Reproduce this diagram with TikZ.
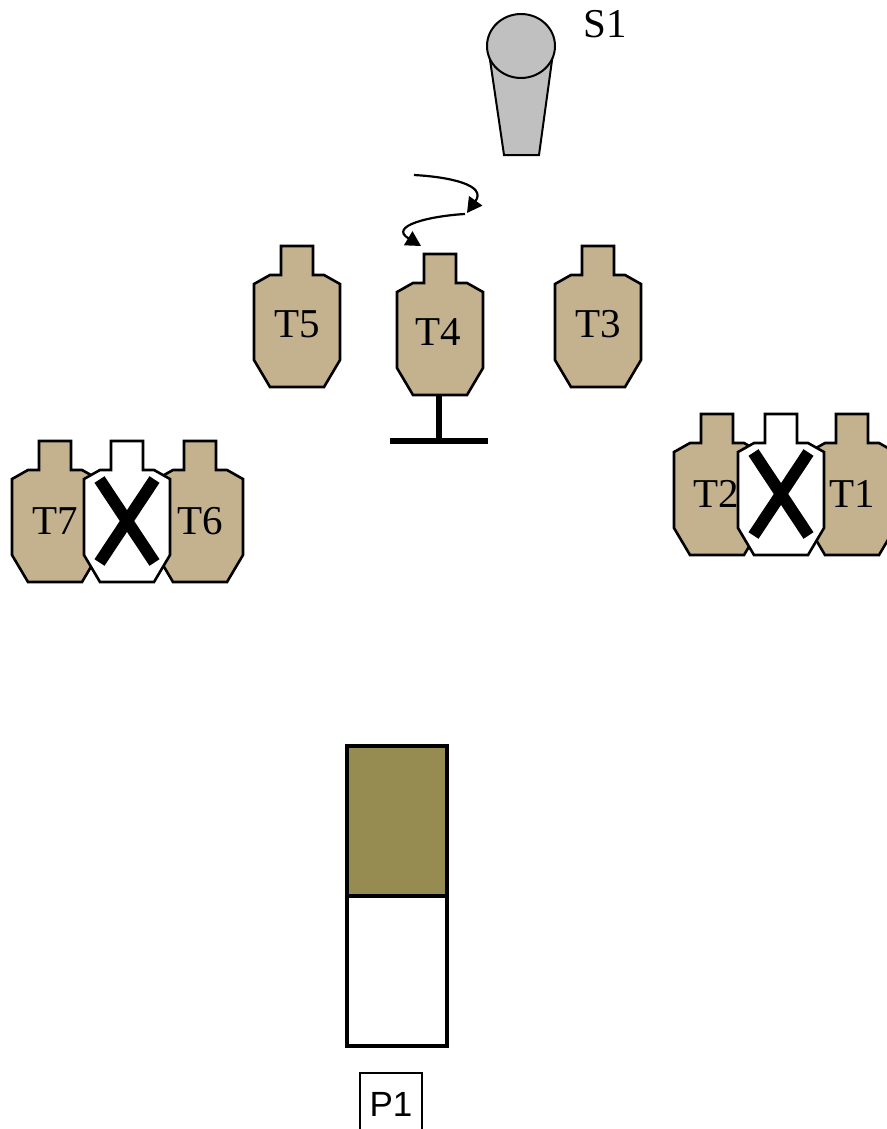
\documentclass[tikz,border=0pt]{standalone}
\usepackage{fontspec}
\setmainfont{Liberation Serif}
\setsansfont{Liberation Sans}
\usetikzlibrary{arrows.meta,shapes.geometric}
\definecolor{targettan}{HTML}{C4B28F}
\definecolor{boxolive}{HTML}{968C52}
\definecolor{shootergray}{HTML}{C0C0C0}
\begin{document}
\begin{tikzpicture}[
  x=1pt, y=-1pt,
  every node/.style={font=\fontsize{41}{45}\selectfont},
  target/.pic={
    \draw[line width=2.6pt, line join=miter, pic actions] (-16,0) -- (16,0) -- (16,29) -- (27,29) -- (43,38) -- (43,114)
      -- (27,141) -- (-27,141) -- (-43,114) -- (-43,38) -- (-27,29) -- (-16,29) -- cycle;
  },
  cross/.pic={
    \draw[line width=12pt] (-27.5,38.5) -- (27.5,121.5);
    \draw[line width=12pt] (27.5,38.5) -- (-27.5,121.5);
  },
  live/.style={fill=targettan},
  noshoot/.style={fill=white},
  turnarrow/.style={-{Triangle[length=15pt,width=16pt]}, line width=2.2pt},
  boxline/.style={draw, line width=4.4pt, minimum width=100pt, minimum height=150pt, inner sep=0pt},
]
\useasboundingbox (0,0) rectangle (886,1129);

% Shooter
\draw[fill=shootergray, line width=2pt] (489,53) -- (504,155) -- (539,155) -- (553,53) -- cycle;
\node[draw, ellipse, fill=shootergray, line width=2pt, minimum width=68pt, minimum height=64pt, inner sep=0pt] (head) at (521,46) {};
\node (s1) at (605,24) {S1};

% Turn arrows
\coordinate (turnastart) at (414,175);
\coordinate (turnaend) at (467,213);
\coordinate (turnbstart) at (465,214);
\coordinate (turnbend) at (421,246);
\draw[turnarrow] (turnastart) .. controls (450,177) and (487,185) .. (turnaend);
\draw[turnarrow] (turnbstart) .. controls (430,216) and (388,226) .. (turnbend);

% Middle targets
\pic[live] (t5shape) at (297,246) {target};
\pic[live] (t3shape) at (598,246) {target};
\pic[live] (t4shape) at (440,254) {target};
\node (t5) at (297,324) {T5};
\node (t3) at (598,324) {T3};
\node (t4) at (438,332) {T4};

% Stand
\coordinate (standtop) at (439,395);
\coordinate (standbase) at (439,441);
\coordinate (standleft) at (390,441);
\coordinate (standright) at (488,441);
\draw[line width=6pt] (standtop) -- (standbase);
\draw[line width=6pt] (standleft) -- (standright);

% Left group
\pic[live] (t7shape) at (55,441) {target};
\pic[live] (t6shape) at (200,441) {target};
\node (t7) at (55,521) {T7};
\node (t6) at (200,521) {T6};
\pic[noshoot] (nsleft) at (127,441) {target};
\pic (xleft) at (127,441) {cross};

% Right group
\pic[live] (t2shape) at (717,414) {target};
\pic[live] (t1shape) at (852,414) {target};
\node (t2) at (716,494) {T2};
\node (t1) at (852,494) {T1};
\pic[noshoot] (nsright) at (781,414) {target};
\pic (xright) at (781,414) {cross};

% Shooting box
\node[boxline, fill=boxolive] (front) at (397,821) {};
\node[boxline, fill=white] (back) at (397,971) {};
\node[draw, line width=1.5pt, minimum width=62pt, minimum height=62pt, inner sep=0pt, font=\sffamily\fontsize{35}{38}\selectfont] (p1) at (391,1104) {P1};
\end{tikzpicture}
\end{document}
